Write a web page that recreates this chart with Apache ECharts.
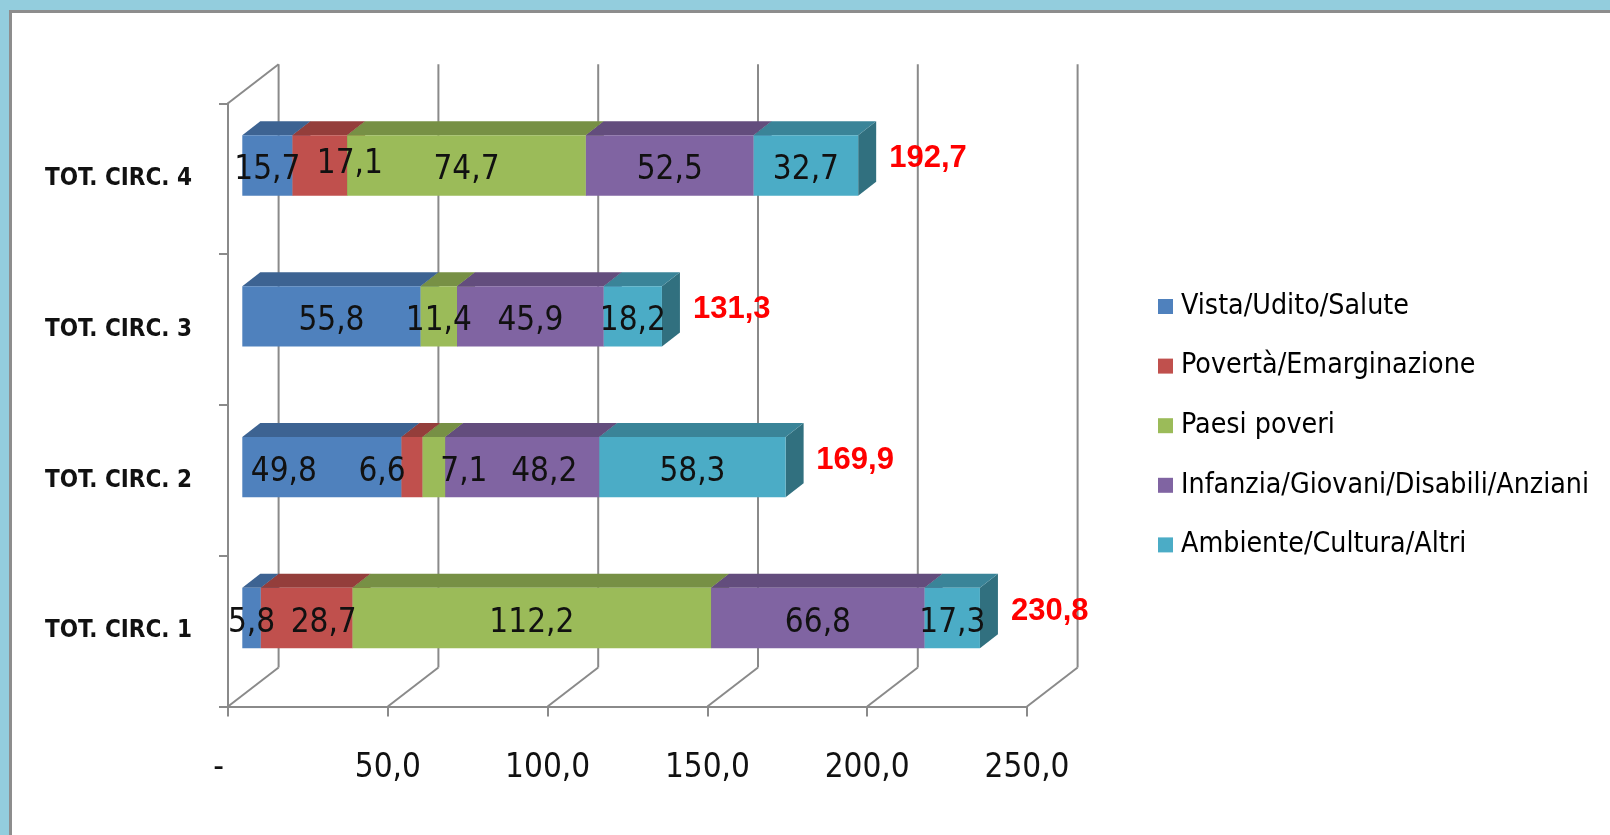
<!DOCTYPE html>
<html>
<head>
<meta charset="utf-8">
<script src="https://cdn.jsdelivr.net/npm/echarts@6/dist/echarts.min.js"></script>
<style>
  html, body { margin: 0; padding: 0; width: 1610px; height: 835px; overflow: hidden; background: #93cddd; }
  #panel { position: absolute; left: 9px; top: 10px; width: 1700px; height: 822px; background: #ffffff; border: 3px solid #8d8d8d; }
  #chart { position: absolute; left: 0; top: 0; width: 1610px; height: 835px; }
</style>
</head>
<body>
<div id="panel"></div>
<div id="chart"></div>
<script>
// ---- data ----
const categories = ['TOT. CIRC. 1', 'TOT. CIRC. 2', 'TOT. CIRC. 3', 'TOT. CIRC. 4'];
const seriesNames = ['Vista/Udito/Salute', 'Povertà/Emarginazione', 'Paesi poveri', 'Infanzia/Giovani/Disabili/Anziani', 'Ambiente/Cultura/Altri'];
const vistaUditoSalute = [5.8, 49.8, 55.8, 15.7];
const povertaEmarginazione = [28.7, 6.6, 0, 17.1];
const paesiPoveri = [112.2, 7.1, 11.4, 74.7];
const infanziaGiovani = [66.8, 48.2, 45.9, 52.5];
const ambienteCultura = [17.3, 58.3, 18.2, 32.7];
const totals = [230.8, 169.9, 131.3, 192.7];
const xTicks = [0, 50, 100, 150, 200, 250];

// ---- style ----
const frontColors = ['#4f81bd', '#c0504d', '#9bbb59', '#8064a2', '#4bacc6'];
const topColors   = ['#3d6392', '#943e3b', '#779045', '#634d7d', '#3a8498'];
const sideColors  = ['#33537a', '#7c3432', '#64793a', '#534169', '#31707f'];
const gridGray = '#8a8a8a';
const DEPTH_X = 18, DEPTH_Y = 14;        // bar depth
const BACK_X = 50.6, BACK_Y = 39;        // wall depth
// manual label nudges (category index - series index) as in the original
const labelNudge = { '0-1': [17, 0], '1-0': [-38, 0], '1-1': [-30, 0], '1-2': [30, 0], '1-3': [22, 0], '3-1': [30, -6] };
const labelFont = "'DejaVu Sans Condensed', 'DejaVu Sans', sans-serif";

const values = [vistaUditoSalute, povertaEmarginazione, paesiPoveri, infanziaGiovani, ambienteCultura];
const starts = values.map((arr, si) => arr.map((v, ci) => {
  let s = 0; for (let k = 0; k < si; k++) s += values[k][ci]; return s;
}));

function fmt(v) { return v.toFixed(1).replace('.', ','); }

const chart = echarts.init(document.getElementById('chart'), null, { renderer: 'canvas' });

// Walls (back wall gridlines + floor diagonals) on the front plane grid
const wallSeries = {
  type: 'custom', xAxisIndex: 0, yAxisIndex: 0, z: 1, silent: true,
  encode: { x: 0, y: 1 },
  data: xTicks.map(v => [v, 0]),
  renderItem(params, api) {
    const cs = params.coordSys;
    const x = api.coord([api.value(0), 0])[0];
    const top = cs.y, bottom = cs.y + cs.height;
    const ls = { stroke: gridGray, lineWidth: 2 };
    const children = [
      { type: 'line', shape: { x1: x + BACK_X, y1: top - BACK_Y, x2: x + BACK_X, y2: bottom - BACK_Y }, style: ls },
      { type: 'line', shape: { x1: x, y1: bottom, x2: x + BACK_X, y2: bottom - BACK_Y }, style: ls }
    ];
    if (params.dataIndex === 0) {
      children.push({ type: 'line', shape: { x1: x, y1: top, x2: x + BACK_X, y2: top - BACK_Y }, style: ls });
    }
    return { type: 'group', children };
  }
};

function barSeries(si) {
  return {
    type: 'custom', name: seriesNames[si], xAxisIndex: 1, yAxisIndex: 1, z: 3 + si * 0.01,
    itemStyle: { color: frontColors[si] },
    encode: { x: [0, 1], y: 2 },
    data: categories.map((c, ci) => [starts[si][ci], starts[si][ci] + values[si][ci], ci]),
    renderItem(params, api) {
      const s = api.value(0), e = api.value(1), ci = api.value(2);
      if (e - s <= 0) return;
      const p1 = api.coord([s, ci]), p2 = api.coord([e, ci]);
      const h = api.size([0, 1])[1] * 0.4;
      const yt = p1[1] - h / 2, yb = p1[1] + h / 2;
      const x1 = p1[0], x2 = p2[0];
      return {
        type: 'group',
        children: [
          { type: 'polygon', shape: { points: [[x2, yt], [x2 + DEPTH_X, yt - DEPTH_Y], [x2 + DEPTH_X, yb - DEPTH_Y], [x2, yb]] }, style: { fill: sideColors[si] } },
          { type: 'polygon', shape: { points: [[x1, yt], [x2, yt], [x2 + DEPTH_X, yt - DEPTH_Y], [x1 + DEPTH_X, yt - DEPTH_Y]] }, style: { fill: topColors[si] } },
          { type: 'rect', shape: { x: x1, y: yt, width: x2 - x1, height: h }, style: { fill: frontColors[si] } }
        ]
      };
    }
  };
}

const labelData = [];
values.forEach((arr, si) => arr.forEach((v, ci) => {
  if (v > 0) labelData.push([starts[si][ci] + v / 2, ci, v, si]);
}));

const labelSeries = {
  type: 'custom', xAxisIndex: 1, yAxisIndex: 1, z: 10, silent: true,
  encode: { x: 0, y: 1 },
  data: labelData,
  renderItem(params, api) {
    const ci = api.value(1), si = api.value(3);
    const p = api.coord([api.value(0), ci]);
    const n = labelNudge[ci + '-' + si] || [0, 0];
    return {
      type: 'text', x: p[0] + n[0], y: p[1] + 5 + n[1],
      style: { text: fmt(api.value(2)), fill: '#111111', font: '33px ' + labelFont, align: 'center', verticalAlign: 'middle' }
    };
  }
};

const totalSeries = {
  type: 'custom', xAxisIndex: 1, yAxisIndex: 1, z: 10, silent: true,
  encode: { x: 0, y: 1 },
  data: totals.map((t, ci) => [t, ci]),
  renderItem(params, api) {
    const p = api.coord([api.value(0), api.value(1)]);
    return {
      type: 'text', x: p[0] + 31, y: p[1] - 7,
      style: { text: fmt(api.value(0)), fill: '#ff0000', font: "bold 31px 'Liberation Sans', Arial, sans-serif", align: 'left', verticalAlign: 'middle' }
    };
  }
};

const option = {
  animation: false,
  backgroundColor: 'transparent',
  legend: {
    orient: 'vertical', left: 1153, top: 284.5,
    itemWidth: 15, itemHeight: 15, itemGap: 25.6, icon: 'rect',
    data: seriesNames,
    textStyle: { fontFamily: labelFont, fontSize: 28.3, color: '#000000', lineHeight: 34, padding: [0, 0, 0, 3] }
  },
  grid: [
    { left: 228, top: 103.3, width: 799, height: 603.2 },
    { left: 242.3, top: 90.1, width: 799, height: 603.3 }
  ],
  xAxis: [
    {
      type: 'value', gridIndex: 0, min: 0, max: 250, interval: 50,
      axisLine: { show: true, lineStyle: { color: gridGray, width: 2 } },
      axisTick: { show: true, length: 10, lineStyle: { color: gridGray, width: 2 } },
      splitLine: { show: false },
      axisLabel: {
        margin: 45, color: '#111111', fontFamily: labelFont, fontSize: 33,
        formatter: v => (v === 0 ? '{d|-}' : fmt(v)),
        rich: { d: { fontFamily: labelFont, fontSize: 33, color: '#111111', padding: [0, 19, 0, 0] } }
      }
    },
    { type: 'value', gridIndex: 1, min: 0, max: 250, interval: 50, show: false }
  ],
  yAxis: [
    {
      type: 'category', gridIndex: 0, data: categories,
      axisLine: { show: true, lineStyle: { color: gridGray, width: 2 } },
      axisTick: { show: true, length: 9, lineStyle: { color: gridGray, width: 2 } },
      axisLabel: { margin: 36, color: '#111111', fontFamily: labelFont, fontSize: 24, fontWeight: 'bold' }
    },
    { type: 'category', gridIndex: 1, data: categories, show: false }
  ],
  series: [wallSeries, barSeries(0), barSeries(1), barSeries(2), barSeries(3), barSeries(4), labelSeries, totalSeries]
};

chart.setOption(option);
</script>
</body>
</html>
